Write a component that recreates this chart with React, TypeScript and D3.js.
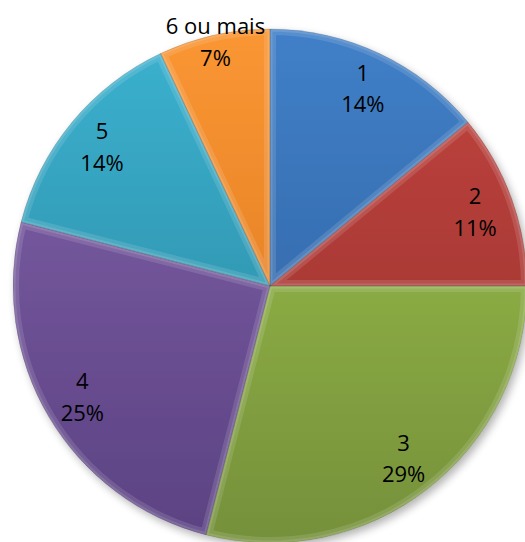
import React from "react";
import { pie, arc, PieArcDatum } from "d3";

const categories = ["1", "2", "3", "4", "5", "6 ou mais"];
const shares = [14, 11, 29, 25, 14, 7];
const topColors = ["#4080c8", "#c2443f", "#9fc54e", "#8262ab", "#3bb2d0", "#fa9632"];
const bottomColors = ["#2d5b98", "#932f2c", "#75903a", "#5b4282", "#2a829a", "#d6731f"];

const W = 525;
const H = 542;
const cx = 270;
const cy = 286;
const R = 257;

interface Slice {
  label: string;
  value: number;
  i: number;
}

export default function App(): JSX.Element {
  const rows: Slice[] = categories.map((c, i) => ({ label: c, value: shares[i], i }));
  const arcs = pie<Slice>()
    .value((d) => d.value)
    .sort(null)(rows);

  const arcGen = arc<PieArcDatum<Slice>>().innerRadius(0).outerRadius(R);
  const labelArc = arc<PieArcDatum<Slice>>().innerRadius(218).outerRadius(218);
  const outerLabelArc = arc<PieArcDatum<Slice>>().innerRadius(250).outerRadius(250);

  return (
    <div style={{ position: "absolute", left: 0, top: 0 }}>
      <svg width={W} height={H} style={{ display: "block", background: "#fff" }}>
        <defs>
          {arcs.map((a) => (
            <linearGradient
              key={`g-${a.index}`}
              id={`grad-${a.index}`}
              gradientUnits="userSpaceOnUse"
              x1={0}
              y1={-R}
              x2={0}
              y2={R}
            >
              <stop offset="0%" stopColor={topColors[a.index]} />
              <stop offset="100%" stopColor={bottomColors[a.index]} />
            </linearGradient>
          ))}
          {arcs.map((a) => (
            <clipPath key={`c-${a.index}`} id={`clip-${a.index}`}>
              <path d={arcGen(a) ?? ""} />
            </clipPath>
          ))}
          <filter id="shadow" x="-10%" y="-10%" width="120%" height="120%">
            <feGaussianBlur in="SourceAlpha" stdDeviation="4" />
            <feOffset dx="3" dy="4" result="b" />
            <feComponentTransfer>
              <feFuncA type="linear" slope="0.3" />
            </feComponentTransfer>
            <feMerge>
              <feMergeNode />
              <feMergeNode in="SourceGraphic" />
            </feMerge>
          </filter>
        </defs>
        <g transform={`translate(${cx},${cy})`}>
          <g filter="url(#shadow)">
            {arcs.map((a) => (
              <path key={`s-${a.index}`} d={arcGen(a) ?? ""} fill={`url(#grad-${a.index})`} />
            ))}
          </g>
          {/* soft bevel */}
          {arcs.map((a) => (
            <g key={`b-${a.index}`} clipPath={`url(#clip-${a.index})`}>
              <path
                d={arcGen(a) ?? ""}
                fill="none"
                stroke="#ffffff"
                strokeOpacity={0.12}
                strokeWidth={12}
                strokeLinejoin="round"
              />
              <path
                d={arcGen(a) ?? ""}
                fill="none"
                stroke="#ffffff"
                strokeOpacity={0.12}
                strokeWidth={5}
                strokeLinejoin="round"
              />
            </g>
          ))}
          {arcs.map((a) => (
            <path
              key={`e-${a.index}`}
              d={arcGen(a) ?? ""}
              fill="none"
              stroke="#000"
              strokeOpacity={0.15}
              strokeWidth={0.8}
            />
          ))}
          {arcs.map((a) => {
            const [x, y] = (a.data.value < 10 ? outerLabelArc : labelArc).centroid(a);
            return (
              <text
                key={`t-${a.index}`}
                x={x}
                y={y}
                textAnchor="middle"
                fontFamily="'Open Sans', sans-serif"
                fontSize={22}
                fill="#000"
              >
                <tspan x={x} dy="-0.35em">
                  {a.data.label}
                </tspan>
                <tspan x={x} dy="1.42em">
                  {a.data.value}%
                </tspan>
              </text>
            );
          })}
        </g>
      </svg>
    </div>
  );
}
